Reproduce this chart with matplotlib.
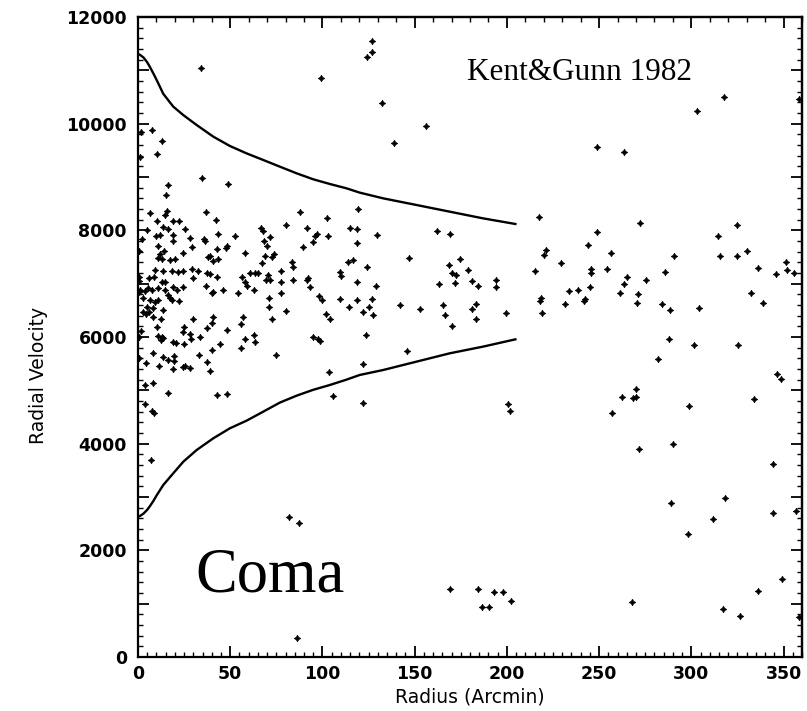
import matplotlib
matplotlib.use("Agg")
import matplotlib.pyplot as plt
from matplotlib.ticker import MultipleLocator, FuncFormatter, NullFormatter

# Galaxy radii (arcmin) and radial velocities (km/s)
radius = [
    34, 99, 1.5, 7.6, 13.2, 10.5, 1.1, 34.7, 48.8, 16.1, 15.0, 6.3, 15.9, 14.6, 10.3, 18.8, 22.0,
    36.8, 42.3, 87.8, 102.2, 119.3, 80.5, 91.7, 114.8, 118.5, 66.5, 67.5, 25.6, 13.7, 16.4, 4.7,
    96.8, 96, 103, 71.5, 43.2, 52.5, 28.2, 18.8, 10, 12, 2, 35.9,
    19.1, 36.3, 48.4, 47.7, 42.6, 29.1, 24.6, 14.1, 11.9, 11.0, 0.7, 58, 95, 89.6, 119, 68.3, 70.0,
    73.7, 72.4, 68.8, 67, 83.4, 83.8, 114, 116.3, 39, 38.1, 43.5, 40.8, 20, 17.3, 11, 13, 9.2, 8.7,
    13.7, 18.2, 21.9, 24.2, 29.1, 32.7, 37.2, 39, 42.6, 56.2, 60.7, 63.4, 65.2, 70.6, 71.5, 69.3,
    58, 59.2, 62.8, 77.8, 77.3, 83.8, 92.3, 91.4, 93.5, 109.4, 109.8, 118.5, 0.3, 0.3, 6.1, 12.8,
    14.6, 1.1, 3.8, 5.6, 7.4, 11, 14.6, 19.1, 21, 24.5, 29.6, 36.8, 39.9, 40.8, 45.9, 54.3, 71.1,
    77.8, 98, 100, 109.4, 118.5, 16.4, 17.3, 18.2, 22.4, 11, 9.2, 0.3, 2.9, 6.5, 4.7, 6.1, 4.3, 2.9,
    8.3, 8.3, 13.7, 12.3, 10.1, 71.1, 80.5, 72.4, 101.8, 104, 114.5, 30, 40.4, 39.9, 37.5, 48.4,
    56.7, 55.8, 24.9, 24.2, 28.2, 33.6, 1.6, 11, 12.8, 13.7, 12.5, 19.1, 20.6, 24.9, 28.7, 0.3,
    62.8, 63.4, 58, 55.6, 39.9, 44.4, 95, 97.7, 98.6, 74.6, 0.3, 8.3, 13.4, 16.4, 19.5, 19.7, 4.3,
    11.5, 19.1, 24.5, 25.5, 28.2, 33.2, 37.2, 39, 103.6, 3.8, 8.3, 16.4, 43, 48.4, 105.8, 3.8, 7.4,
    8.7, 6.9, 81.8, 87.4, 86,
    126.6, 126.6, 124.2, 132.4, 156.4, 138.7, 217.4, 129.6, 162.1, 169,
    146.8, 124, 129.3, 126.6, 125.3, 122.1, 127.5, 141.9, 152.8, 123.5, 145.7, 122.1, 122.1, 200.8,
    201.9, 168.7, 174.8, 170.5, 172.3, 178.9, 163.4, 172.1, 181.3, 184.5, 194.3, 194.3, 165.4,
    166.7, 170.5, 183.1, 181, 183.5, 199.5, 215.4, 220.1, 221.4, 229.3, 218.3, 217.8, 218.9, 233.7,
    238.3, 231.3,
    169.4, 184.5, 193, 198.1, 202.2, 186.5, 190.5,
    317.6, 303.2, 358.3, 248.8, 263.3, 249, 271.9, 314.4, 324.9,
    243.8, 256.6, 290.4, 315.6, 324.9, 330, 245.8, 245.8, 254.4, 285.8, 336.1, 345.9, 351.4, 351.7,
    355.9, 265.1, 263.3, 275.2, 245.1, 242.6, 241.9, 261.5, 270.9, 270.5, 284.2, 288.5, 304.4,
    332.3, 338.8, 287.8, 301.2, 325.4, 281.7, 346.3, 348.6, 270.1, 269.8, 268.3, 262.6, 257.2, 299,
    334,
    271.6, 289.8, 344.2, 289.1, 318.5, 311.6, 344.3, 357, 298.4, 349, 336.4, 267.6, 316.9, 326.3,
    358.6,
]
velocity = [
    11040, 10860, 9840, 9875, 9680, 9440, 9380, 8975, 8870, 8855, 8670, 8325, 8370, 8290, 8170, 8170,
    8170, 8345, 8200, 8340, 8230, 8395, 8095, 8040, 8040, 8030, 8040, 7990, 8025, 8060, 8030, 8005,
    7935, 7900, 7900, 7880, 7925, 7895, 7865, 7920, 7890, 7905, 7845, 7830,
    7806, 7806, 7706, 7663, 7644, 7694, 7569, 7619, 7556, 7706, 7619, 7581, 7788, 7681, 7769, 7806,
    7706, 7556, 7506, 7519, 7394, 7412, 7319, 7412, 7444, 7519, 7494, 7456, 7431, 7456, 7444, 7480,
    7460, 7256, 7131, 7244, 7244, 7225, 7244, 7269, 7244, 7206, 7181, 7131, 7131, 7206, 7206, 7206,
    7163, 7069, 7069, 7038, 6956, 6881, 7244, 7038, 7069, 7100, 7069, 6944, 7225, 7144, 7038, 7131,
    7044, 7100, 7038, 7038, 6880, 6869, 6913, 6881, 6913, 6881, 6944, 6881, 6944, 7100, 6956, 6819,
    6850, 6881, 6819, 6725, 6819, 6769, 6694, 6706, 6694, 6788, 6725, 6694, 6681, 6694, 6663, 6850,
    6725, 6694, 6556, 6475, 6425, 6475, 6538, 6381, 6506, 6331, 6194, 6556, 6494, 6331, 6431, 6331,
    6556, 6331, 6381, 6256, 6163, 6131, 6381, 6244, 6194, 6100, 6056, 6006, 6119, 6019, 6006, 5975,
    5944, 5913, 5894, 5869, 5956, 6006, 6038, 5913, 5956, 5788, 5756, 5869, 5994, 5956, 5931, 5663,
    5600, 5694, 5631, 5569, 5644, 5556, 5519, 5456, 5394, 5444, 5463, 5413, 5663, 5538, 5363, 5350,
    5100, 5131, 4944, 4913, 4925, 4894, 4744, 4619, 4581, 3694, 2619, 2506, 360,
    11556, 11338, 11244, 10394, 9956, 9631, 8256, 7913, 7988, 7925,
    7488, 7319, 6950, 6706, 6569, 6469, 6419, 6594, 6519, 6031, 5738, 5488, 4769, 4738, 4613, 7350,
    7456, 7194, 7163, 7263, 6988, 7006, 7050, 6950, 7075, 6938, 6606, 6413, 6206, 6613, 6519, 6344,
    6456, 7244, 7538, 7631, 7381, 6738, 6675, 6450, 6856, 6881, 6619,
    1269, 1281, 1213, 1225, 1056, 931, 931,
    10500, 10244, 10463, 9569, 9463, 7975, 8144, 7900, 8107,
    7725, 7569, 7525, 7525, 7525, 7606, 7269, 7206, 7269, 7219, 7300, 7181, 7413, 7256, 7194, 7131,
    6994, 7069, 6938, 6719, 6681, 6831, 6806, 6644, 6613, 6506, 6550, 6819, 6644, 5969, 5844, 5844,
    5588, 5313, 5206, 5019, 4881, 4850, 4875, 4575, 4706, 4831,
    3894, 3988, 3613, 2881, 2981, 2588, 2700, 2731, 2300, 1463, 1238, 1031, 906, 769, 750,
]

# Envelope curves bounding the cluster members
curve_radius = [0, 1.1, 3, 5, 6.5, 8.5, 10.1, 13.7, 19.1, 24.6, 31.8, 40.8, 49.8, 58.8, 67.9,
                76.9, 86, 95, 104, 113, 120.2, 132.9, 151, 169, 187, 204.6]
curve_upper = [11310, 11290, 11240, 11150, 11060, 10930, 10820, 10560, 10320, 10160, 9975, 9757,
               9582, 9444, 9319, 9194, 9069, 8957, 8869, 8788, 8707, 8600, 8475, 8350, 8225, 8119]
curve_lower = [2631, 2645, 2690, 2760, 2830, 2935, 3030, 3225, 3444, 3663, 3881, 4100, 4288,
               4430, 4600, 4770, 4900, 5010, 5100, 5200, 5288, 5381, 5538, 5694, 5819, 5956]

y_ticks = [0, 2000, 4000, 6000, 8000, 10000, 12000]
x_ticks = [0, 50, 100, 150, 200, 250, 300, 350]

fig = plt.figure(figsize=(8.07, 7.11), dpi=100)
ax = fig.add_axes([138 / 807, 54 / 711, 664 / 807, 640 / 711])

ax.plot(radius, velocity, linestyle="none", marker=(4, 1, 0), markersize=4.6,
        color="black", markeredgewidth=0.6)
ax.plot(curve_radius, curve_upper, color="black", lw=1.7)
ax.plot(curve_radius, curve_lower, color="black", lw=1.7)

ax.set_xlim(0, 360)
ax.set_ylim(0, 12000)

for s in ax.spines.values():
    s.set_linewidth(1.6)

tick_font = matplotlib.font_manager.FontProperties(family="DejaVu Sans", weight="bold",
                                                   size=12.5)

ax.set_xticks(x_ticks)
ax.set_xticklabels([str(v) for v in x_ticks])
ax.xaxis.set_minor_locator(MultipleLocator(5))
ax.yaxis.set_major_locator(MultipleLocator(1000))
ax.yaxis.set_minor_locator(MultipleLocator(200))
ax.yaxis.set_major_formatter(FuncFormatter(
    lambda v, p: (str(int(round(v))) if int(round(v)) in y_ticks else "")))
ax.tick_params(axis="y", which="major", direction="in", length=8, width=1.3, pad=8)
ax.tick_params(axis="y", which="minor", direction="in", length=3.5, width=1.0)
ax.tick_params(axis="x", which="major", direction="in", length=8, width=1.3, pad=6)
ax.tick_params(axis="x", which="minor", direction="in", length=3.5, width=1.0)
fig.canvas.draw()
for lab in ax.get_xticklabels() + ax.get_yticklabels():
    lab.set_fontproperties(tick_font)

top = ax.secondary_xaxis("top")
top.xaxis.set_major_locator(MultipleLocator(50))
top.xaxis.set_minor_locator(MultipleLocator(10))
top.xaxis.set_major_formatter(NullFormatter())
top.tick_params(which="major", direction="in", length=8, width=1.3)
top.tick_params(which="minor", direction="in", length=3.5, width=1.0)
top.spines["top"].set_linewidth(1.6)

right = ax.secondary_yaxis("right")
right.yaxis.set_major_locator(MultipleLocator(1000))
right.yaxis.set_minor_locator(MultipleLocator(200))
right.yaxis.set_major_formatter(NullFormatter())
right.tick_params(which="major", direction="in", length=8, width=1.3)
right.tick_params(which="minor", direction="in", length=3.5, width=1.0)
right.spines["right"].set_linewidth(1.6)

fig.text(470 / 807, 14 / 711, "Radius (Arcmin)", ha="center", va="center",
         family="DejaVu Sans", size=13.5)
fig.text(38 / 807, 336 / 711, "Radial Velocity", ha="center", va="center",
         rotation=90, family="DejaVu Sans", size=13.5)

ax.text(178.2, 10819, "Kent&Gunn 1982", family="Liberation Serif", size=22.5,
        va="baseline", ha="left")
ax.text(30.9, 1219, "Coma", family="Liberation Serif", size=45,
        va="baseline", ha="left")

fig.savefig("out.png", dpi=100)
